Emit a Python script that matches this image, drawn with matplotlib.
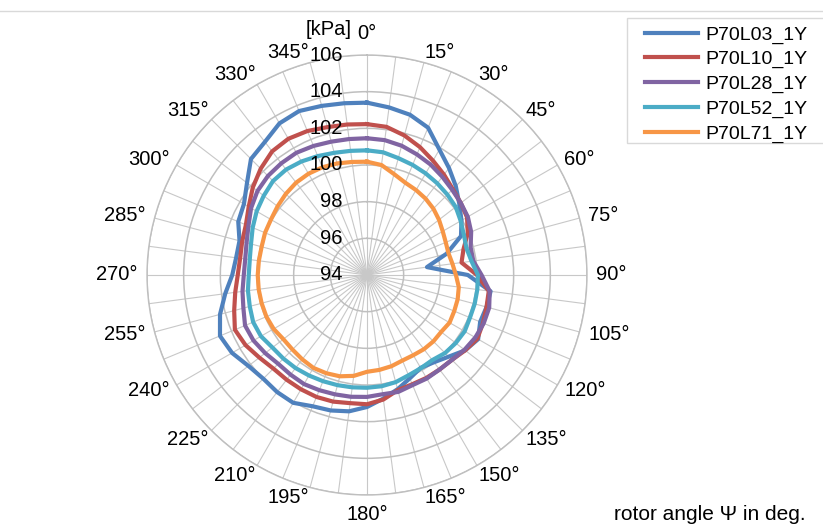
import numpy as np
import matplotlib
matplotlib.use("Agg")
import matplotlib.pyplot as plt
from matplotlib.lines import Line2D
from matplotlib.patches import Rectangle

plt.rcParams["font.family"] = ["Liberation Sans", "DejaVu Sans"]

# rotor angle grid (deg), one value per spoke
ANGLES = np.arange(0, 360, 7.5)

P70L03 = [103.40, 103.22, 103.05, 102.70, 101.90, 101.35, 100.85, 100.35,
          99.95, 99.55, 98.50, 97.30, 99.50, 100.80, 100.75, 100.68,
          101.00, 100.75, 100.30, 100.00, 99.85, 100.10, 100.45, 100.80,
          101.20, 101.50, 101.65, 101.75, 102.05, 102.05, 102.00, 102.15,
          102.50, 102.68, 102.30, 101.80, 101.35, 101.20, 101.20, 101.60,
          101.75, 102.25, 102.95, 103.15, 103.55, 103.68, 103.55, 103.45]
P70L10 = [102.23, 102.15, 101.88, 101.55, 101.20, 100.90, 100.62, 100.45,
          100.30, 99.95, 99.45, 99.20, 100.00, 100.70, 100.75, 100.85,
          100.95, 100.75, 100.55, 100.50, 100.48, 100.45, 100.50, 100.85,
          101.05, 101.05, 101.15, 101.20, 101.20, 101.20, 101.22, 101.40,
          101.65, 101.80, 101.50, 101.25, 101.05, 100.98, 101.05, 101.15,
          101.45, 101.85, 102.20, 102.50, 102.58, 102.50, 102.35, 102.28]
P70L28 = [101.46, 101.42, 101.30, 101.12, 100.95, 100.75, 100.57, 100.45,
          100.35, 100.15, 99.85, 99.85, 100.25, 100.75, 100.90, 100.89,
          100.82, 100.70, 100.55, 100.50, 100.52, 100.50, 100.60, 100.56,
          100.65, 100.70, 100.74, 100.80, 100.87, 100.85, 100.85, 101.00,
          101.15, 101.20, 100.98, 100.85, 100.72, 100.70, 100.80, 101.00,
          101.30, 101.53, 101.64, 101.68, 101.70, 101.62, 101.53, 101.48]
P70L52 = [100.80, 100.75, 100.60, 100.50, 100.40, 100.30, 100.20, 100.10,
          99.90, 99.72, 99.62, 99.75, 100.05, 100.07, 100.08, 100.08,
          100.15, 100.10, 100.02, 99.85, 99.87, 99.92, 100.05, 100.12,
          100.15, 100.18, 100.22, 100.27, 100.33, 100.40, 100.45, 100.50,
          100.68, 100.72, 100.62, 100.55, 100.45, 100.45, 100.55, 100.75,
          100.95, 101.10, 101.25, 101.25, 101.15, 101.02, 100.90, 100.83]
P70L71 = [100.18, 100.05, 99.70, 99.45, 99.35, 99.25, 99.12, 98.95,
          98.77, 98.65, 98.60, 98.70, 98.85, 99.05, 99.12, 99.15,
          99.20, 99.10, 99.12, 99.10, 99.05, 99.05, 99.15, 99.22,
          99.28, 99.55, 99.72, 99.80, 99.85, 99.80, 99.75, 99.75,
          99.88, 99.94, 99.95, 99.96, 99.96, 99.95, 99.95, 100.02,
          100.05, 100.15, 100.26, 100.35, 100.38, 100.36, 100.30, 100.22]

SERIES = {
    "P70L03_1Y": P70L03,
    "P70L10_1Y": P70L10,
    "P70L28_1Y": P70L28,
    "P70L52_1Y": P70L52,
    "P70L71_1Y": P70L71,
}
COLORS = ["#4F81BD", "#C0504D", "#8064A2", "#4BACC6", "#F79646"]
R_TICKS = [94, 96, 98, 100, 102, 104, 106]
ANGLE_LABELS = [f"{int(a)}°" if a % 15 == 0 else "" for a in ANGLES]

W, H = 823, 531
fig = plt.figure(figsize=(W / 100, H / 100), dpi=100)
ax = fig.add_axes([147 / W, 1 - 495 / H, 440 / W, 440 / H], projection="polar")
ax.set_theta_zero_location("N")
ax.set_theta_direction(-1)

theta = np.deg2rad(np.append(ANGLES, ANGLES[0]))
for (name, vals), col in zip(SERIES.items(), COLORS):
    r = np.append(vals, vals[0])
    ax.plot(theta, r, color=col, lw=3, solid_joinstyle="round", label=name)

ax.set_ylim(94, 106)
ax.set_yticks(R_TICKS)
ax.set_yticklabels([])
ax.set_thetagrids(ANGLES, [""] * len(ANGLES))
ax.xaxis.grid(True, color="#c8c8c8", lw=0.8)
ax.yaxis.grid(True, color="#bfbfbf", lw=1.1)
ax.spines["polar"].set_color("#bfbfbf")
ax.spines["polar"].set_linewidth(1.0)

# angle labels placed Excel-like: box edge/corner next to the outer ring
renderer = fig.canvas.get_renderer()
centre = ax.transData.transform((0, 94))
to_fig = fig.transFigure.inverted()
TXT_H = 15  # ink height of the digits in px
for a, lab in zip(ANGLES, ANGLE_LABELS):
    if not lab:
        continue
    s, c = np.sin(np.deg2rad(a)), np.cos(np.deg2rad(a))
    t = fig.text(0, 0, lab, ha="center", va="center", fontsize=14.5)
    w = t.get_window_extent(renderer).width
    edge = ax.transData.transform((np.deg2rad(a), 106))
    u = (edge - centre) / np.linalg.norm(edge - centre)
    if abs(s) < 0.01:
        sx, sy = 0.0, np.sign(c)
        gap = 14 if c > 0 else 12
    else:
        sx = np.sign(s)
        f = np.clip((abs(c) - 0.4) / 0.4, 0, 1)
        sy = np.sign(c) * f
        gap = 9 - 6 * f
    pos = edge + gap * u + np.array([sx * w / 2, sy * TXT_H / 2])
    t.set_position(to_fig.transform(pos))

for v in R_TICKS:
    ax.annotate(str(v), xy=(0, v), xytext=(-17.5, 0), textcoords="offset points",
                ha="right", va="center", fontsize=14.5, annotation_clip=False)

fig.text(352 / W, 1 - 29.5 / H, "[kPa]", ha="right", va="center", fontsize=14.5)
fig.text(806 / W, 1 - 515 / H, "rotor angle Ψ in deg.", ha="right", va="center", fontsize=15)

# thin frame line at the top of the chart area
fig.add_artist(Line2D([0, 1], [1 - 11 / H, 1 - 11 / H], color="#d9d9d9", lw=1))

# legend box runs off the right edge, as in the source chart
fig.add_artist(Rectangle((627 / W, 1 - 143 / H), 220 / W, 125 / H,
                         transform=fig.transFigure, facecolor="white",
                         edgecolor="#d9d9d9", lw=1, zorder=2))
leg = fig.legend(loc="upper left", bbox_to_anchor=(637 / W, 1 - 18 / H), fontsize=14,
                 frameon=False, handlelength=2.75, handletextpad=0.35,
                 labelspacing=0.36, borderpad=0.4, borderaxespad=0)
leg.set_zorder(3)

fig.savefig("out.png", dpi=100)
